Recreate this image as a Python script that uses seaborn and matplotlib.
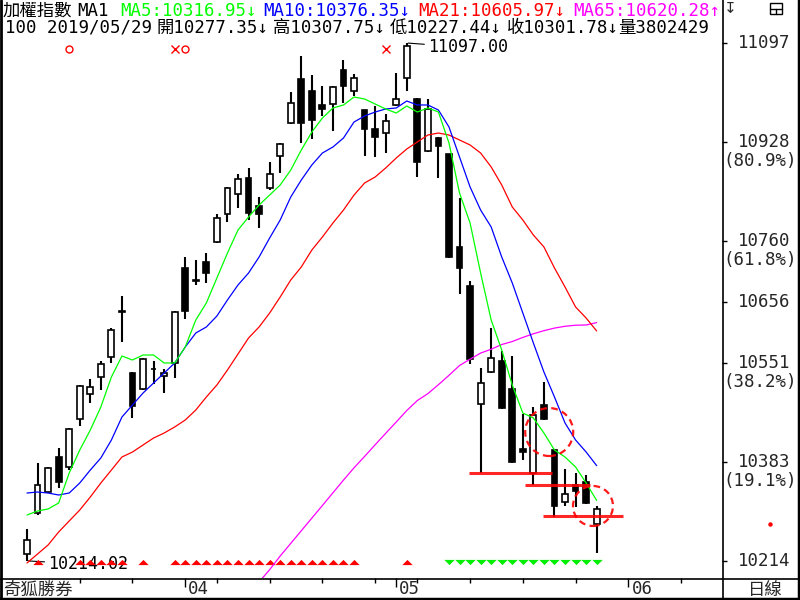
import numpy as np
import pandas as pd
import matplotlib
matplotlib.use('Agg')
import matplotlib.pyplot as plt
import matplotlib.transforms as mtrans
from matplotlib.patches import Ellipse, Rectangle
from matplotlib.lines import Line2D
from matplotlib.path import Path
import seaborn as sns

# daily candles, 2019/03/11 .. 2019/05/29 (index 0..54)
opens = [10225.7, 10295.6, 10331.4, 10391.1, 10374.1, 10455.9, 10498.5, 10527.5, 10561.6, 10640.0,
         10534.3, 10507.1, 10541.2, 10529.2, 10551.4, 10713.4, 10692.0, 10723.6, 10757.7, 10805.4,
         10839.5, 10866.8, 10819.1, 10849.8, 10904.3, 10960.6, 11035.6, 11015.1, 10991.3, 10993.0,
         11050.9, 11015.1, 10982.7, 10950.4, 10943.5, 10991.3, 11037.3, 11001.5, 10912.8, 10935.0,
         10907.7, 10749.2, 10682.7, 10481.5, 10536.0, 10554.8, 10507.1, 10404.8, 10363.8, 10479.8,
         10403.0, 10314.4, 10343.4, 10348.5, 10277.35]
highs = [10268.4, 10380.9, 10374.0, 10406.5, 10440.6, 10513.9, 10524.1, 10554.8, 10611.1, 10665.6,
         10536.0, 10560.0, 10554.8, 10541.2, 10640.0, 10732.1, 10727.0, 10738.9, 10805.4, 10851.5,
         10873.6, 10883.9, 10834.4, 10894.1, 10926.5, 11013.4, 11074.8, 11042.4, 11023.7, 11023.0,
         11068.0, 11044.1, 10983.5, 10989.6, 10975.9, 11045.8, 11097.0, 11003.0, 11001.5, 10936.7,
         10908.0, 10832.7, 10691.2, 10542.9, 10611.1, 10571.8, 10563.3, 10464.4, 10476.4, 10519.0,
         10404.0, 10370.7, 10363.8, 10360.4, 10307.75]
lows = [10214.02, 10292.2, 10330.0, 10338.3, 10368.9, 10444.0, 10483.2, 10505.3, 10551.4, 10587.2,
        10457.6, 10505.3, 10515.6, 10500.3, 10525.8, 10626.4, 10684.4, 10687.8, 10756.0, 10791.8,
        10815.7, 10795.2, 10781.6, 10846.4, 10875.3, 10958.9, 10926.5, 10933.3, 10972.5, 10946.9,
        10994.7, 11006.6, 10904.3, 10902.6, 10909.4, 10989.6, 11015.1, 10868.5, 10911.0, 10866.8,
        10730.4, 10669.0, 10549.7, 10363.8, 10534.3, 10473.0, 10380.9, 10386.0, 10343.4, 10454.2,
        10288.8, 10307.6, 10305.9, 10311.0, 10227.44]
closes = [10249.6, 10343.4, 10372.4, 10348.5, 10438.9, 10512.2, 10510.5, 10549.7, 10607.6, 10638.3,
          10478.1, 10558.2, 10540.3, 10534.3, 10638.3, 10640.0, 10691.2, 10704.8, 10798.6, 10849.8,
          10865.1, 10807.1, 10805.4, 10873.6, 10924.8, 10994.7, 10960.6, 10965.7, 10984.5, 11022.0,
          11023.7, 11037.3, 10950.4, 10936.7, 10964.0, 11001.5, 11092.0, 10894.1, 10984.5, 10921.4,
          10732.1, 10713.4, 10558.2, 10517.3, 10559.9, 10474.7, 10382.6, 10398.8, 10462.7, 10455.9,
          10307.6, 10328.0, 10333.1, 10312.7, 10301.78]

ma5 = [10292.2, 10299.0, 10302.5, 10312.7, 10363.8, 10403.0, 10437.1, 10476.4, 10527.5, 10563.3,
       10556.5, 10565.0, 10565.0, 10551.4, 10551.4, 10578.7, 10624.7, 10653.7, 10696.3, 10738.9,
       10778.1, 10800.3, 10820.8, 10837.8, 10854.9, 10880.4, 10914.5, 10945.2, 10969.1, 10986.2,
       10991.3, 11004.9, 11001.5, 10993.0, 10984.5, 10977.6, 10989.6, 10979.3, 10986.2, 10979.3,
       10926.5, 10841.2, 10790.1, 10704.8, 10624.7, 10573.5, 10513.9, 10466.1, 10457.6, 10432.0,
       10403.0, 10391.1, 10374.1, 10346.8, 10316.95]
ma10 = [10329.7, 10331.4, 10329.7, 10326.3, 10329.7, 10346.8, 10368.9, 10389.4, 10420.1, 10459.3,
        10479.8, 10500.2, 10517.3, 10534.3, 10551.4, 10578.7, 10602.5, 10612.8, 10631.5, 10658.8,
        10684.4, 10704.8, 10732.1, 10764.5, 10795.2, 10834.4, 10863.4, 10889.0, 10909.4, 10919.7,
        10935.0, 10962.3, 10972.5, 10979.3, 10984.5, 10986.2, 10998.1, 10991.3, 10991.3, 10982.7,
        10953.8, 10902.6, 10851.5, 10812.2, 10783.3, 10732.1, 10687.8, 10636.6, 10585.5, 10536.0,
        10493.4, 10449.1, 10420.1, 10399.6, 10376.35]
ma21 = [10210.4, 10225.7, 10241.1, 10263.2, 10282.0, 10300.7, 10322.9, 10346.8, 10368.9, 10391.1,
        10399.6, 10411.6, 10423.5, 10432.0, 10442.3, 10454.2, 10471.2, 10493.4, 10513.9, 10539.4,
        10566.7, 10594.0, 10612.8, 10636.6, 10663.9, 10692.9, 10715.1, 10744.0, 10766.2, 10790.1,
        10812.2, 10837.8, 10858.3, 10868.5, 10883.9, 10900.9, 10916.3, 10928.2, 10940.1, 10943.5,
        10940.1, 10931.6, 10923.1, 10909.4, 10885.6, 10854.9, 10817.4, 10795.2, 10769.6, 10749.2,
        10713.4, 10681.0, 10646.9, 10628.1, 10605.97]
ma65 = [np.nan] * 22 + [
        10178.0, 10199.0, 10222.3, 10243.8, 10265.3, 10286.9, 10308.4, 10330.1,
        10351.7, 10372.7, 10392.1, 10411.9, 10431.5, 10450.8, 10470.4, 10487.4, 10499.2, 10514.4,
        10530.4, 10547.1, 10557.9, 10568.3, 10574.9, 10582.9, 10588.0, 10595.0, 10601.2, 10606.5,
        10610.9, 10614.0, 10615.8, 10616.2, 10620.28]

# signal markers (candle index)
buy_marks = [1, 5, 6, 7, 8, 9, 11, 14, 15, 16, 17, 18, 19, 20, 21, 22, 23, 24, 25, 26, 27,
             28, 29, 30, 31, 36]
sell_marks = [40, 41, 42, 43, 44, 45, 46, 47, 48, 49, 50, 51, 52, 53, 54]
o_marks = [4, 15]
x_marks = [14, 34]

# support lines drawn by hand: level, from, to (candle index)
support_levels = [10363.8, 10343.4, 10290.0]
support_from = [41.9, 47.2, 48.9]
support_to = [49.8, 53.4, 56.5]

fib_levels = [11097, 10928, 10760, 10656, 10551, 10383, 10214]
fib_pct = ['', '(80.9%)', '(61.8%)', '', '(38.2%)', '(19.1%)', '']

month_pos = [15, 35, 57]
month_labels = ['04', '05', '06']
week_pos = [5, 10, 18, 23, 28, 33, 37, 42, 47, 52, 62]

header1 = [('加權指數', 3, 'black'), ('MA1', 77, 'black'),
           ('MA5:10316.95↓', 120, '#00ff00'), ('MA10:10376.35↓', 263, '#0000ff'),
           ('MA21:10605.97↓', 418, '#ff0000'), ('MA65:10620.28↑', 573, '#ff00ff')]
header2 = [('100 2019/05/29', 5), ('開10277.35↓', 157), ('高10307.75↓', 273),
           ('低10227.44↓', 390), ('收10301.78↓', 507), ('量3802429', 618)]

sns.set_theme(style='white')
plt.rcParams['font.family'] = ['DejaVu Sans Mono', 'Noto Sans CJK TC']
plt.rcParams['axes.unicode_minus'] = False

W, H = 800, 600
fig = plt.figure(figsize=(8, 6), dpi=100, facecolor='white')


def fx(px):
    return px / W


def fy(py):
    return 1 - py / H


ax = fig.add_axes([fx(2), fy(578), fx(720), 576 / H])
ax.set_facecolor('white')
for s in ax.spines.values():
    s.set_visible(False)

o = np.array(opens)
c = np.array(closes)
idx = np.arange(len(c))
up = c >= o

# candles
ax.vlines(idx, lows, highs, color='black', lw=1.5, zorder=2)
ax.bar(idx, np.maximum(np.abs(c - o), 1.2), bottom=np.minimum(o, c), width=0.55,
       color=np.where(up, 'white', 'black'), edgecolor='black', lw=1.2, zorder=3)

# moving averages
ma_df = pd.DataFrame({'idx': idx, 'MA5': ma5, 'MA10': ma10, 'MA21': ma21, 'MA65': ma65})
for col, color in [('MA65', '#ff00ff'), ('MA21', '#ff0000'), ('MA10', '#0000ff'), ('MA5', '#00ff00')]:
    sns.lineplot(data=ma_df, x='idx', y=col, color=color, lw=0.9, ax=ax, zorder=4)

# hand drawn support lines and circles
ax.hlines(support_levels, support_from, support_to, color='#ff0000', lw=2.2, alpha=0.85, zorder=5)
ax.add_patch(Ellipse((49.5, 10433.7), 4.55, 81.8, fill=False, ec='#ff0000', lw=1.6,
                     ls=(0, (3, 2)), alpha=0.9, zorder=6))
ax.add_patch(Ellipse((53.65, 10307.6), 3.79, 68.2, fill=False, ec='#ff0000', lw=1.6,
                     ls=(0, (3, 2)), alpha=0.9, zorder=6))

ax.set_xlim(-2.37, 65.88)
ax.set_ylim(10184.8, 11166.9)
ax.set_xlabel('')
ax.set_ylabel('')

# signal markers
xt = mtrans.blended_transform_factory(ax.transData, ax.transAxes)
tri_up = Path([(-1, -0.5), (1, -0.5), (0, 0.5), (-1, -0.5)])
tri_dn = Path([(-1, 0.5), (1, 0.5), (0, -0.5), (-1, 0.5)])
ax.plot(buy_marks, [0.028] * len(buy_marks), transform=xt, ls='none', marker=tri_up,
        ms=7.5, color='#ff0000', mec='none', zorder=3)
ax.plot(sell_marks, [0.027] * len(sell_marks), transform=xt, ls='none', marker=tri_dn,
        ms=7.5, color='#00ee00', mec='none', zorder=3)
ax.plot(o_marks, [0.918] * len(o_marks), transform=xt, ls='none', marker='o', ms=5,
        mfc='none', mec='#ff0000', mew=1)
ax.plot(x_marks, [0.918] * len(x_marks), transform=xt, ls='none', marker='x', ms=5.5,
        color='#ff0000', mew=1)

# high / low labels
ax.annotate('11097.00', xy=(36, max(highs)), xytext=(15, -3.2), textcoords='offset points',
            ha='left', va='center', fontsize=12, color='black',
            arrowprops=dict(arrowstyle='-', color='black', lw=0.8, shrinkA=0, shrinkB=1))
ax.annotate('%.2f' % min(lows), xy=(0, min(lows)), xytext=(15, -2.5), textcoords='offset points',
            ha='left', va='center', fontsize=12, color='black', zorder=2,
            arrowprops=dict(arrowstyle='-', color='black', lw=0.8, shrinkA=0, shrinkB=1))

# x ticks
ax.set_xticks(month_pos)
ax.set_xticks(week_pos, minor=True)
ax.tick_params(axis='x', which='major', direction='out', length=6.5, width=1, color='black',
               bottom=True, labelbottom=False)
ax.tick_params(axis='x', which='minor', direction='out', length=3.5, width=1, color='black',
               bottom=True)
for p, lab in zip(month_pos, month_labels):
    ax.annotate(lab, xy=(p, 0), xycoords=xt, xytext=(2.2, -8), textcoords='offset points',
                ha='left', va='center', fontsize=12.5, annotation_clip=False)

# right axis (fibonacci levels)
ax.yaxis.tick_right()
ax.set_yticks(fib_levels)
ax.tick_params(axis='y', which='major', direction='out', length=3.5, width=1, color='black',
               right=True, left=False, labelright=False, labelleft=False)
yt = mtrans.blended_transform_factory(ax.transAxes, ax.transData)
for lev, pct in zip(fib_levels, fib_pct):
    ax.annotate(str(lev), xy=(1, lev), xycoords=yt, xytext=(49, 0), textcoords='offset points',
                ha='right', va='center', fontsize=12.5, annotation_clip=False)
    if pct:
        ax.annotate(pct, xy=(1, lev), xycoords=yt, xytext=(54, -13.7), textcoords='offset points',
                    ha='right', va='center', fontsize=12.5, annotation_clip=False)

# header
for txt, px, col in header1:
    ax.text(fx(px), fy(11), txt, transform=fig.transFigure, color=col, fontsize=12.5,
            ha='left', va='center', clip_on=True)
for txt, px in header2:
    ax.text(fx(px), fy(28), txt, transform=fig.transFigure, color='black', fontsize=12.5,
            ha='left', va='center', clip_on=True)

fig.text(fx(3), fy(590), '奇狐勝券', fontsize=12.5, ha='left', va='center')
fig.text(fx(765), fy(590), '日線', fontsize=12.5, ha='center', va='center')
fig.text(fx(724), fy(8), '↧', fontsize=11, ha='left', va='center', family='DejaVu Sans')
fig.add_artist(Rectangle((fx(770), fy(14)), 12 / W, 11 / H, fill=False, lw=1, ec='black',
                         transform=fig.transFigure))
fig.add_artist(Line2D([fx(770), fx(782)], [fy(8.5)] * 2, color='black', lw=1))
fig.add_artist(Line2D([fx(776)] * 2, [fy(8.5), fy(14)], color='black', lw=1))
fig.add_artist(Line2D([fx(770)], [fy(524)], marker='o', ms=2.2, color='#ff0000', ls='none'))

# frame lines
fig.add_artist(Line2D([fx(722.5)] * 2, [0, 1], color='black', lw=1.2))
fig.add_artist(Line2D([0, 1], [fy(578.5)] * 2, color='black', lw=1.2))
fig.add_artist(Line2D([fx(0.5)] * 2, [0, 1], color='black', lw=2))
fig.add_artist(Line2D([fx(798.5)] * 2, [0, 1], color='black', lw=2.5))
fig.add_artist(Line2D([0, 1], [fy(598.5)] * 2, color='black', lw=2.5))

fig.savefig('out.png', dpi=100)
